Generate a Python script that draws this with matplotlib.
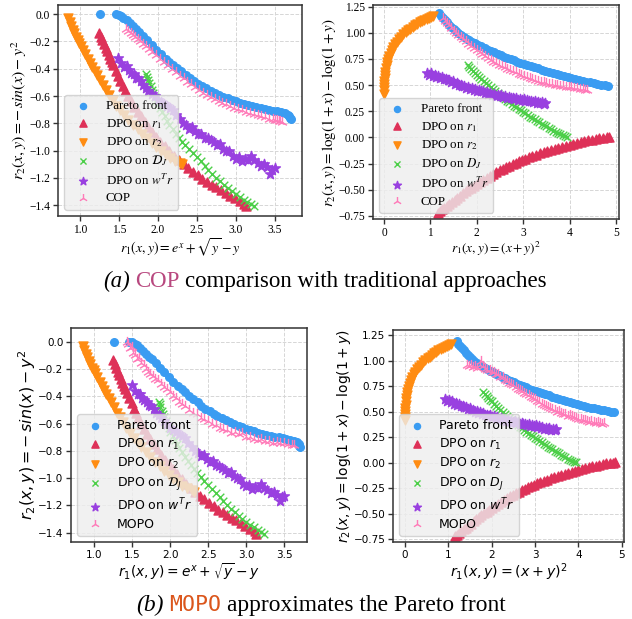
import matplotlib.pyplot as plt
from matplotlib.font_manager import FontProperties
from matplotlib.offsetbox import TextArea, HPacker, AnnotationBbox

# colours of the six series
blue = "#3A9CF2"
red = "#DE3158"
orange = "#FF8C12"
green = "#4CCF48"
purple = "#9940E0"
pink = "#FF7AB8"

# ---- left column: r1 = e^x + sqrt(y) - y, r2 = -sin(x) - y^2 ----
sin_front_x = [1.256, 1.46, 1.50, 1.53, 1.56, 1.60, 1.64, 1.68, 1.72, 1.76, 1.81, 1.86, 1.92,
               1.98, 2.04, 2.10, 2.15, 2.20, 2.25, 2.30, 2.36, 2.41, 2.46, 2.52, 2.57, 2.62,
               2.68, 2.73, 2.79, 2.84, 2.90, 2.95, 3.00, 3.05, 3.10, 3.16, 3.21, 3.26, 3.32,
               3.37, 3.43, 3.48, 3.53, 3.58, 3.63, 3.67, 3.69, 3.70, 3.71]
sin_front_y = [0.0, 0.0, -0.005, -0.015, -0.028, -0.045, -0.065, -0.09, -0.11, -0.13, -0.16,
               -0.19, -0.225, -0.26, -0.295, -0.325, -0.35, -0.372, -0.395, -0.42, -0.445,
               -0.47, -0.49, -0.51, -0.527, -0.543, -0.56, -0.575, -0.59, -0.604, -0.617,
               -0.628, -0.638, -0.648, -0.657, -0.667, -0.675, -0.683, -0.69, -0.696, -0.702,
               -0.707, -0.713, -0.72, -0.728, -0.738, -0.75, -0.762, -0.772]

sin_r1_x = [1.25, 1.27, 1.29, 1.31, 1.33, 1.35, 1.37, 1.39, 1.41, 1.43, 1.46, 1.49, 1.52, 1.55,
            1.58, 1.62, 1.66, 1.70, 1.74, 1.78, 1.83, 1.88, 1.93, 1.98, 2.03, 2.09, 2.15, 2.21,
            2.27, 2.33, 2.39, 2.45, 2.51, 2.57, 2.63, 2.69, 2.75, 2.81, 2.87, 2.93, 2.99, 3.05,
            3.11, 3.13]
sin_r1_y = [-0.135, -0.165, -0.19, -0.22, -0.245, -0.27, -0.30, -0.325, -0.35, -0.375, -0.415,
            -0.45, -0.49, -0.525, -0.56, -0.60, -0.64, -0.68, -0.715, -0.75, -0.79, -0.83,
            -0.865, -0.90, -0.935, -0.97, -1.005, -1.04, -1.07, -1.10, -1.13, -1.155, -1.18,
            -1.205, -1.23, -1.25, -1.27, -1.29, -1.31, -1.33, -1.35, -1.37, -1.39, -1.41]

sin_r2_x = [0.85, 0.87, 0.89, 0.91, 0.93, 0.95, 0.97, 0.99, 1.01, 1.04, 1.07, 1.10, 1.13, 1.16,
            1.19, 1.22, 1.26, 1.30, 1.34, 1.38, 1.42, 1.47, 1.52, 1.57, 1.62, 1.68, 1.74, 1.80,
            1.86, 1.92, 1.98, 2.04, 2.10, 2.16, 2.22, 2.28, 2.31]
sin_r2_y = [-0.03, -0.06, -0.09, -0.115, -0.14, -0.165, -0.19, -0.21, -0.23, -0.26, -0.295,
            -0.325, -0.355, -0.385, -0.415, -0.445, -0.48, -0.52, -0.555, -0.59, -0.63, -0.67,
            -0.705, -0.74, -0.775, -0.81, -0.845, -0.88, -0.91, -0.945, -0.975, -1.005, -1.03,
            -1.055, -1.075, -1.09, -1.10]

sin_dj_x = [1.85, 1.86, 1.87, 1.89, 1.91, 1.92, 1.94, 1.96, 1.98, 2.00, 2.03, 2.06, 2.09, 2.12,
            2.15, 2.19, 2.23, 2.27, 2.31, 2.35, 2.40, 2.45, 2.50, 2.55, 2.60, 2.65, 2.70, 2.75,
            2.80, 2.85, 2.90, 2.95, 3.00, 3.05, 3.10, 3.15, 3.20, 3.24]
sin_dj_y = [-0.44, -0.46, -0.48, -0.505, -0.53, -0.555, -0.58, -0.61, -0.635, -0.66, -0.69,
            -0.72, -0.75, -0.78, -0.81, -0.845, -0.875, -0.905, -0.935, -0.96, -0.99, -1.02,
            -1.05, -1.08, -1.11, -1.14, -1.17, -1.20, -1.225, -1.25, -1.275, -1.30, -1.32,
            -1.34, -1.36, -1.38, -1.395, -1.41]

sin_wr_x = [1.49, 1.53, 1.57, 1.60, 1.63, 1.66, 1.69, 1.72, 1.75, 1.78, 1.81, 1.85, 1.88, 1.92,
            1.96, 2.00, 2.04, 2.08, 2.12, 2.16, 2.20, 2.24, 2.28, 2.32, 2.36, 2.40, 2.44, 2.48,
            2.52, 2.56, 2.60, 2.64, 2.68, 2.72, 2.76, 2.80, 2.84, 2.88, 2.92, 2.96, 3.00, 3.04,
            3.08, 3.12, 3.16, 3.20, 3.24, 3.28, 3.32, 3.36, 3.40, 3.44, 3.47, 3.50]
sin_wr_y = [-0.32, -0.36, -0.385, -0.38, -0.41, -0.43, -0.44, -0.465, -0.47, -0.49, -0.52,
            -0.54, -0.56, -0.585, -0.60, -0.63, -0.645, -0.66, -0.675, -0.69, -0.705, -0.74,
            -0.77, -0.80, -0.815, -0.84, -0.83, -0.86, -0.88, -0.875, -0.905, -0.91, -0.925,
            -0.94, -0.96, -0.955, -0.985, -1.00, -1.005, -1.04, -1.06, -1.05, -1.08, -1.065,
            -1.07, -1.04, -1.07, -1.09, -1.11, -1.10, -1.12, -1.17, -1.14, -1.13]

sin_cop_x = [1.59, 1.62, 1.65, 1.68, 1.71, 1.74, 1.77, 1.81, 1.85, 1.89, 1.93, 1.98, 2.03, 2.08,
             2.13, 2.18, 2.23, 2.28, 2.33, 2.38, 2.43, 2.48, 2.53, 2.58, 2.63, 2.68, 2.73, 2.78,
             2.83, 2.88, 2.93, 2.98, 3.03, 3.08, 3.13, 3.18, 3.23, 3.28, 3.33, 3.38, 3.43, 3.48,
             3.51, 3.53, 3.55, 3.57, 3.60]
sin_cop_y = [-0.11, -0.125, -0.14, -0.155, -0.165, -0.18, -0.195, -0.215, -0.235, -0.255,
             -0.275, -0.30, -0.325, -0.35, -0.375, -0.40, -0.425, -0.45, -0.47, -0.495, -0.515,
             -0.535, -0.555, -0.575, -0.59, -0.605, -0.62, -0.635, -0.65, -0.66, -0.675,
             -0.685, -0.695, -0.705, -0.715, -0.725, -0.735, -0.74, -0.75, -0.755, -0.765,
             -0.77, -0.775, -0.775, -0.78, -0.785, -0.79]

sin_mopo_x = [1.43, 1.45, 1.47, 1.49, 1.51, 1.53, 1.56, 1.59, 1.62, 1.65, 1.68, 1.71, 1.74, 1.77,
              1.80, 1.84, 1.88, 1.92, 1.96, 2.00, 2.04, 2.08, 2.12, 2.16, 2.20, 2.25, 2.30, 2.35,
              2.40, 2.45, 2.50, 2.55, 2.60, 2.65, 2.70, 2.75, 2.80, 2.85, 2.90, 2.95, 3.00, 3.05,
              3.10, 3.15, 3.20, 3.25, 3.30, 3.35, 3.40, 3.45, 3.50, 3.55, 3.60, 3.63]
sin_mopo_y = [0.0, -0.02, -0.05, -0.04, -0.085, -0.10, -0.13, -0.12, -0.16, -0.17, -0.20, -0.22,
              -0.24, -0.25, -0.27, -0.28, -0.31, -0.33, -0.35, -0.37, -0.40, -0.41, -0.44,
              -0.455, -0.47, -0.50, -0.52, -0.53, -0.56, -0.57, -0.58, -0.60, -0.61, -0.63,
              -0.64, -0.65, -0.67, -0.665, -0.68, -0.67, -0.70, -0.695, -0.71, -0.72, -0.715,
              -0.73, -0.725, -0.74, -0.735, -0.745, -0.74, -0.75, -0.755, -0.76]

# ---- right column: r1 = (x+y)^2, r2 = log(1+x) - log(1+y) ----
log_front_x = [1.19, 1.23, 1.27, 1.31, 1.35, 1.40, 1.45, 1.50, 1.55, 1.60, 1.66, 1.72, 1.78,
               1.84, 1.90, 1.96, 2.03, 2.10, 2.17, 2.24, 2.31, 2.38, 2.45, 2.52, 2.59, 2.66,
               2.73, 2.80, 2.87, 2.94, 3.01, 3.08, 3.16, 3.24, 3.32, 3.40, 3.48, 3.56, 3.64,
               3.72, 3.80, 3.88, 3.96, 4.04, 4.12, 4.20, 4.28, 4.36, 4.44, 4.52, 4.60, 4.68,
               4.76, 4.82]
log_front_y = [1.19, 1.165, 1.14, 1.12, 1.10, 1.075, 1.055, 1.035, 1.015, 1.00, 0.98, 0.96,
               0.945, 0.93, 0.915, 0.90, 0.885, 0.87, 0.855, 0.84, 0.828, 0.815, 0.80, 0.787,
               0.773, 0.76, 0.748, 0.737, 0.725, 0.714, 0.703, 0.693, 0.682, 0.672, 0.66,
               0.645, 0.635, 0.625, 0.615, 0.605, 0.595, 0.585, 0.575, 0.566, 0.557, 0.549,
               0.541, 0.533, 0.526, 0.519, 0.512, 0.506, 0.50, 0.495]

log_r1_x = [1.16, 1.20, 1.25, 1.30, 1.35, 1.40, 1.46, 1.52, 1.58, 1.64, 1.70, 1.76, 1.82, 1.88,
            1.94, 2.00, 2.07, 2.14, 2.21, 2.28, 2.35, 2.42, 2.49, 2.56, 2.63, 2.70, 2.77, 2.84,
            2.91, 2.98, 3.05, 3.12, 3.20, 3.28, 3.36, 3.44, 3.52, 3.60, 3.68, 3.76, 3.84, 3.92,
            4.00, 4.08, 4.16, 4.24, 4.32, 4.40, 4.48, 4.56, 4.64, 4.72, 4.80, 4.84]
log_r1_y = [-0.72, -0.705, -0.685, -0.67, -0.65, -0.635, -0.615, -0.595, -0.575, -0.555,
            -0.535, -0.515, -0.495, -0.48, -0.46, -0.445, -0.425, -0.405, -0.385, -0.365,
            -0.345, -0.33, -0.315, -0.30, -0.285, -0.27, -0.255, -0.24, -0.228, -0.215,
            -0.203, -0.19, -0.178, -0.165, -0.153, -0.142, -0.13, -0.119, -0.108, -0.098,
            -0.088, -0.078, -0.069, -0.06, -0.051, -0.043, -0.035, -0.027, -0.02, -0.013,
            -0.007, -0.002, 0.002, 0.005]

log_r2_x = [0.0, 0.0, 0.0, 0.005, 0.01, 0.015, 0.02, 0.03, 0.04, 0.055, 0.07, 0.09, 0.11, 0.14,
            0.17, 0.20, 0.24, 0.28, 0.32, 0.37, 0.42, 0.47, 0.52, 0.57, 0.62, 0.67, 0.72, 0.77,
            0.82, 0.87, 0.92, 0.97, 1.02, 1.06]
log_r2_y = [0.42, 0.45, 0.48, 0.51, 0.54, 0.57, 0.60, 0.63, 0.66, 0.69, 0.72, 0.75, 0.78, 0.81,
            0.84, 0.865, 0.89, 0.915, 0.94, 0.96, 0.985, 1.005, 1.025, 1.04, 1.055, 1.07,
            1.085, 1.10, 1.11, 1.12, 1.13, 1.14, 1.15, 1.16]

log_dj_x = [1.80, 1.84, 1.88, 1.92, 1.96, 2.00, 2.05, 2.10, 2.15, 2.20, 2.25, 2.30, 2.35, 2.40,
            2.45, 2.50, 2.55, 2.60, 2.65, 2.70, 2.75, 2.80, 2.85, 2.90, 2.95, 3.00, 3.05, 3.10,
            3.15, 3.20, 3.25, 3.30, 3.35, 3.40, 3.45, 3.50, 3.55, 3.60, 3.65, 3.70, 3.75, 3.80,
            3.85, 3.90, 3.94]
log_dj_y = [0.69, 0.67, 0.652, 0.635, 0.617, 0.60, 0.58, 0.56, 0.54, 0.52, 0.50, 0.48, 0.46,
            0.44, 0.423, 0.405, 0.388, 0.37, 0.353, 0.337, 0.32, 0.305, 0.29, 0.275, 0.26,
            0.245, 0.23, 0.215, 0.20, 0.185, 0.172, 0.158, 0.145, 0.132, 0.118, 0.105, 0.092,
            0.079, 0.066, 0.053, 0.041, 0.03, 0.02, 0.011, 0.005]

log_wr_x = [0.93, 0.97, 1.01, 1.05, 1.09, 1.13, 1.17, 1.21, 1.25, 1.29, 1.33, 1.37, 1.41, 1.45,
            1.49, 1.53, 1.57, 1.61, 1.65, 1.69, 1.73, 1.77, 1.81, 1.85, 1.89, 1.93, 1.97, 2.01,
            2.05, 2.09, 2.13, 2.17, 2.21, 2.25, 2.29, 2.33, 2.37, 2.41, 2.45, 2.49, 2.53, 2.57,
            2.61, 2.65, 2.69, 2.73, 2.77, 2.81, 2.85, 2.89, 2.93, 2.97, 3.01, 3.05, 3.09, 3.13,
            3.17, 3.21, 3.25, 3.29, 3.33, 3.37, 3.41, 3.45, 3.48]
log_wr_y = [0.62, 0.60, 0.615, 0.59, 0.60, 0.58, 0.585, 0.565, 0.575, 0.555, 0.56, 0.545, 0.55,
            0.53, 0.535, 0.515, 0.52, 0.50, 0.505, 0.49, 0.495, 0.475, 0.485, 0.465, 0.47,
            0.455, 0.465, 0.445, 0.455, 0.44, 0.445, 0.425, 0.435, 0.42, 0.425, 0.41, 0.42,
            0.40, 0.41, 0.395, 0.405, 0.39, 0.395, 0.38, 0.39, 0.375, 0.38, 0.365, 0.375, 0.36,
            0.37, 0.355, 0.365, 0.35, 0.36, 0.345, 0.35, 0.335, 0.345, 0.33, 0.34, 0.325,
            0.335, 0.32, 0.33]

log_cop_x = [1.28, 1.32, 1.36, 1.40, 1.45, 1.50, 1.55, 1.60, 1.65, 1.70, 1.76, 1.82, 1.88,
             1.94, 2.00, 2.06, 2.12, 2.18, 2.24, 2.30, 2.36, 2.42, 2.48, 2.54, 2.60, 2.66,
             2.72, 2.78, 2.84, 2.90, 2.96, 3.02, 3.08, 3.14, 3.20, 3.26, 3.32, 3.38, 3.44,
             3.50, 3.56, 3.62, 3.68, 3.74, 3.80, 3.86, 3.92, 3.98, 4.04, 4.10, 4.16, 4.22,
             4.28, 4.34, 4.37]
log_cop_y = [1.14, 1.115, 1.09, 1.07, 1.045, 1.02, 1.00, 0.98, 0.96, 0.94, 0.92, 0.895, 0.875,
             0.855, 0.836, 0.815, 0.795, 0.777, 0.76, 0.742, 0.725, 0.71, 0.695, 0.682, 0.67,
             0.657, 0.645, 0.633, 0.621, 0.61, 0.598, 0.587, 0.577, 0.567, 0.558, 0.549,
             0.541, 0.533, 0.526, 0.52, 0.514, 0.508, 0.503, 0.498, 0.494, 0.49, 0.486, 0.482,
             0.478, 0.474, 0.47, 0.466, 0.462, 0.458, 0.455]

log_mopo_x = [1.42, 1.47, 1.52, 1.57, 1.62, 1.67, 1.72, 1.76, 1.80, 1.85, 1.90, 1.95, 2.00,
              2.05, 2.10, 2.15, 2.20, 2.25, 2.30, 2.35, 2.40, 2.45, 2.50, 2.55, 2.60, 2.65,
              2.70, 2.75, 2.80, 2.85, 2.90, 2.95, 3.00, 3.05, 3.10, 3.15, 3.20, 3.25, 3.30,
              3.35, 3.40, 3.45, 3.50, 3.55, 3.60, 3.65, 3.70, 3.75, 3.80, 3.85, 3.90, 3.95,
              4.00, 4.05, 4.10, 4.15, 4.20, 4.25, 4.30, 4.35, 4.40, 4.45, 4.50, 4.55, 4.60]
log_mopo_y = [0.96, 0.95, 0.955, 0.94, 0.945, 0.93, 0.96, 1.00, 0.95, 0.92, 0.905, 0.91,
              0.885, 0.89, 0.865, 0.87, 0.84, 0.835, 0.815, 0.80, 0.785, 0.775, 0.76, 0.74,
              0.725, 0.715, 0.70, 0.68, 0.675, 0.66, 0.64, 0.635, 0.62, 0.60, 0.595, 0.575,
              0.57, 0.555, 0.545, 0.54, 0.525, 0.52, 0.50, 0.505, 0.49, 0.48, 0.475, 0.46,
              0.47, 0.455, 0.445, 0.44, 0.43, 0.425, 0.415, 0.42, 0.405, 0.40, 0.41, 0.395,
              0.39, 0.40, 0.385, 0.38, 0.39]

styles = [
    dict(marker="o", color=blue, s=30),
    dict(marker="^", color=red, s=42),
    dict(marker="v", color=orange, s=42),
    dict(marker="x", color=green, s=30, linewidths=1.0),
    dict(marker="*", color=purple, s=55),
    dict(marker="2", color=pink, s=65, linewidths=1.0),
]


def draw_panel(ax, series, labels, xlim, ylim, xticks, yticks, xlabel, ylabel,
               serif, xsize, ysize):
    if serif:
        fam, mfam, tsize, gsize = "Liberation Serif", "stix", 8.3, 9.3
    else:
        fam, mfam, tsize, gsize = "DejaVu Sans", "dejavusans", 7.5, 9

    for (x, y), lab, st in zip(series, labels, styles):
        ax.scatter(x, y, label=lab, **st)

    ax.set_xlim(*xlim)
    ax.set_ylim(*ylim)
    ax.set_xticks(xticks)
    ax.set_yticks(yticks)
    ax.grid(True, ls="--", color="#d6d6d6", lw=0.7)
    ax.set_axisbelow(True)
    for sp in ax.spines.values():
        sp.set_color("#333333")
        sp.set_linewidth(1.1)
    ax.tick_params(length=3.5, width=1, color="#333333", labelsize=tsize,
                   labelfontfamily=fam, pad=2)

    ax.set_xlabel(xlabel, fontproperties=FontProperties(family=fam, size=xsize,
                                                        math_fontfamily=mfam), labelpad=1)
    ax.set_ylabel(ylabel, fontproperties=FontProperties(family=fam, size=ysize,
                                                        math_fontfamily=mfam), labelpad=0)

    gp = FontProperties(family=fam, size=gsize, math_fontfamily=mfam)
    ax.legend(loc="lower left", prop=gp, facecolor="#eeeeee", edgecolor="#cccccc",
              framealpha=0.8, labelspacing=0.35, markerscale=0.8)


def caption(fig, x, y, parts):
    boxes = [TextArea(s, textprops=p) for s, p in parts]
    pack = HPacker(children=boxes, align="baseline", pad=0, sep=4)
    ab = AnnotationBbox(pack, (x, y), xycoords="figure fraction", frameon=False,
                        box_alignment=(0.5, 0.5))
    fig.add_artist(ab)


fig = plt.figure(figsize=(6.32, 6.19), dpi=100)

ax_tl = fig.add_axes([0.0918, 0.651, 0.386, 0.341])
ax_tr = fig.add_axes([0.590, 0.646, 0.389, 0.346])
ax_bl = fig.add_axes([0.1123, 0.1244, 0.3734, 0.3457])
ax_br = fig.add_axes([0.6218, 0.1244, 0.3655, 0.3425])

sin_common = [(sin_front_x, sin_front_y), (sin_r1_x, sin_r1_y), (sin_r2_x, sin_r2_y),
              (sin_dj_x, sin_dj_y), (sin_wr_x, sin_wr_y)]
log_common = [(log_front_x, log_front_y), (log_r1_x, log_r1_y), (log_r2_x, log_r2_y),
              (log_dj_x, log_dj_y), (log_wr_x, log_wr_y)]

labels_cal = ["Pareto front", "DPO on $r_1$", "DPO on $r_2$", r"DPO on $\mathcal{D}_J$",
              "DPO on $w^T r$"]
labels_it = ["Pareto front", "DPO on $r_1$", "DPO on $r_2$", "DPO on $D_J$",
             "DPO on $w^T r$"]

sin_xticks = [1.0, 1.5, 2.0, 2.5, 3.0, 3.5]
sin_yticks = [-1.4, -1.2, -1.0, -0.8, -0.6, -0.4, -0.2, 0.0]
log_xticks = [0, 1, 2, 3, 4, 5]
log_yticks = [-0.75, -0.5, -0.25, 0.0, 0.25, 0.5, 0.75, 1.0, 1.25]

sin_xlabel = r"$r_1(x, y) = e^x + \sqrt{y} - y$"
sin_ylabel = r"$r_2(x, y) = -\,sin(x) - y^2$"
log_xlabel = r"$r_1(x, y) = (x + y)^2$"
log_ylabel = r"$r_2(x, y) = \log(1 + x) - \log(1 + y)$"

draw_panel(ax_tl, sin_common + [(sin_cop_x, sin_cop_y)], labels_cal + ["COP"],
           (0.72, 3.85), (-1.48, 0.068), sin_xticks, sin_yticks, sin_xlabel, sin_ylabel,
           True, 10, 11.5)
draw_panel(ax_tr, log_common + [(log_cop_x, log_cop_y)], labels_it + ["COP"],
           (-0.24, 5.06), (-0.78, 1.266), log_xticks, log_yticks, log_xlabel, log_ylabel,
           True, 9.6, 10.9)
draw_panel(ax_bl, sin_common + [(sin_mopo_x, sin_mopo_y)], labels_cal + ["MOPO"],
           (0.693, 3.80), (-1.468, 0.10), sin_xticks, sin_yticks, sin_xlabel, sin_ylabel,
           False, 9.9, 11.4)
draw_panel(ax_br, log_common + [(log_mopo_x, log_mopo_y)], labels_it + ["MOPO"],
           (-0.277, 5.05), (-0.776, 1.30), log_xticks, log_yticks, log_xlabel, log_ylabel,
           False, 10.2, 10.0)

serif = dict(family="Liberation Serif", size=16.5, color="black")
serif_it = dict(family="Liberation Serif", size=16.5, style="italic", color="black")
serif_b = dict(family="Liberation Serif", size=16.9, color="black")
serif_b_it = dict(family="Liberation Serif", size=16.9, style="italic", color="black")
caption(fig, 0.514, 0.545, [("(a)", serif_it),
                            ("COP", dict(serif, color="#B8487F")),
                            ("comparison with traditional approaches", serif)])
caption(fig, 0.508, 0.022, [("(b)", serif_b_it),
                            ("MOPO", dict(family="DejaVu Sans Mono", size=15.5, color="#DB561C")),
                            ("approximates the Pareto front", serif_b)])

fig.savefig("out.png", dpi=100)
